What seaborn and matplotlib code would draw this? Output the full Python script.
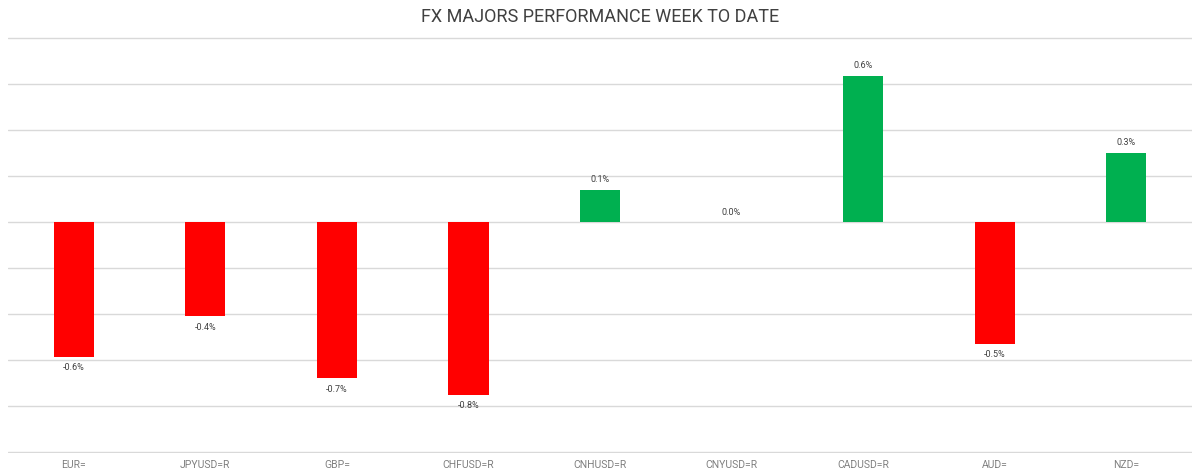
import matplotlib
matplotlib.use("Agg")
import matplotlib.pyplot as plt
import seaborn as sns
import pandas as pd

categories = ["EUR=", "JPYUSD=R", "GBP=", "CHFUSD=R", "CNHUSD=R", "CNYUSD=R", "CADUSD=R", "AUD=", "NZD="]
values = [-0.587, -0.41, -0.68, -0.75, 0.14, 0.0, 0.635, -0.53, 0.30]
labels = ["-0.6%", "-0.4%", "-0.7%", "-0.8%", "0.1%", "0.0%", "0.6%", "-0.5%", "0.3%"]

sns.set_theme(style="white")
plt.rcParams['font.family'] = ['Roboto', 'DejaVu Sans']

df = pd.DataFrame({"cat": categories, "val": values})
df["sign"] = ["pos" if v >= 0 else "neg" for v in values]

fig = plt.figure(figsize=(12, 4.76), dpi=100)
ax = fig.add_axes([8/1200, 1 - 453/476, 1184/1200, (453 - 37)/476])

sns.barplot(data=df, x="cat", y="val", hue="sign", order=categories,
            palette={"pos": "#00b050", "neg": "#ff0000"}, width=0.305,
            dodge=False, legend=False, ax=ax, saturation=1, linewidth=0)

ax.set_ylim(-1.004, 0.804)
ax.set_xlim(-0.5, 8.5)
ax.set_yticks([-1.0, -0.8, -0.6, -0.4, -0.2, 0.0, 0.2, 0.4, 0.6, 0.8])
ax.set_yticklabels([])
ax.tick_params(axis="y", length=0)
ax.yaxis.grid(True, color="#d9d9d9", linewidth=1)
ax.set_axisbelow(True)
for s in ax.spines.values():
    s.set_visible(False)
ax.set_xlabel("")
ax.set_ylabel("")
ax.tick_params(axis="x", length=0, pad=5, labelsize=7.5, labelcolor="#808080")

for i, (v, lab) in enumerate(zip(values, labels)):
    if v > 0:
        ax.annotate(lab, (i, v), xytext=(0, 4.5), textcoords="offset points",
                    ha="center", va="bottom", fontsize=6.5, color="#404040")
    elif v == 0:
        ax.annotate(lab, (i, v), xytext=(0, 3.5), textcoords="offset points",
                    ha="center", va="bottom", fontsize=6.5, color="#404040")
    else:
        ax.annotate(lab, (i, v), xytext=(0, -4.5), textcoords="offset points",
                    ha="center", va="top", fontsize=6.5, color="#404040")

fig.text(0.5, 1 - 17/476, "FX MAJORS PERFORMANCE WEEK TO DATE", ha="center", va="center",
         fontsize=13, color="#404040")

fig.savefig("out.png", dpi=100, facecolor="white")
